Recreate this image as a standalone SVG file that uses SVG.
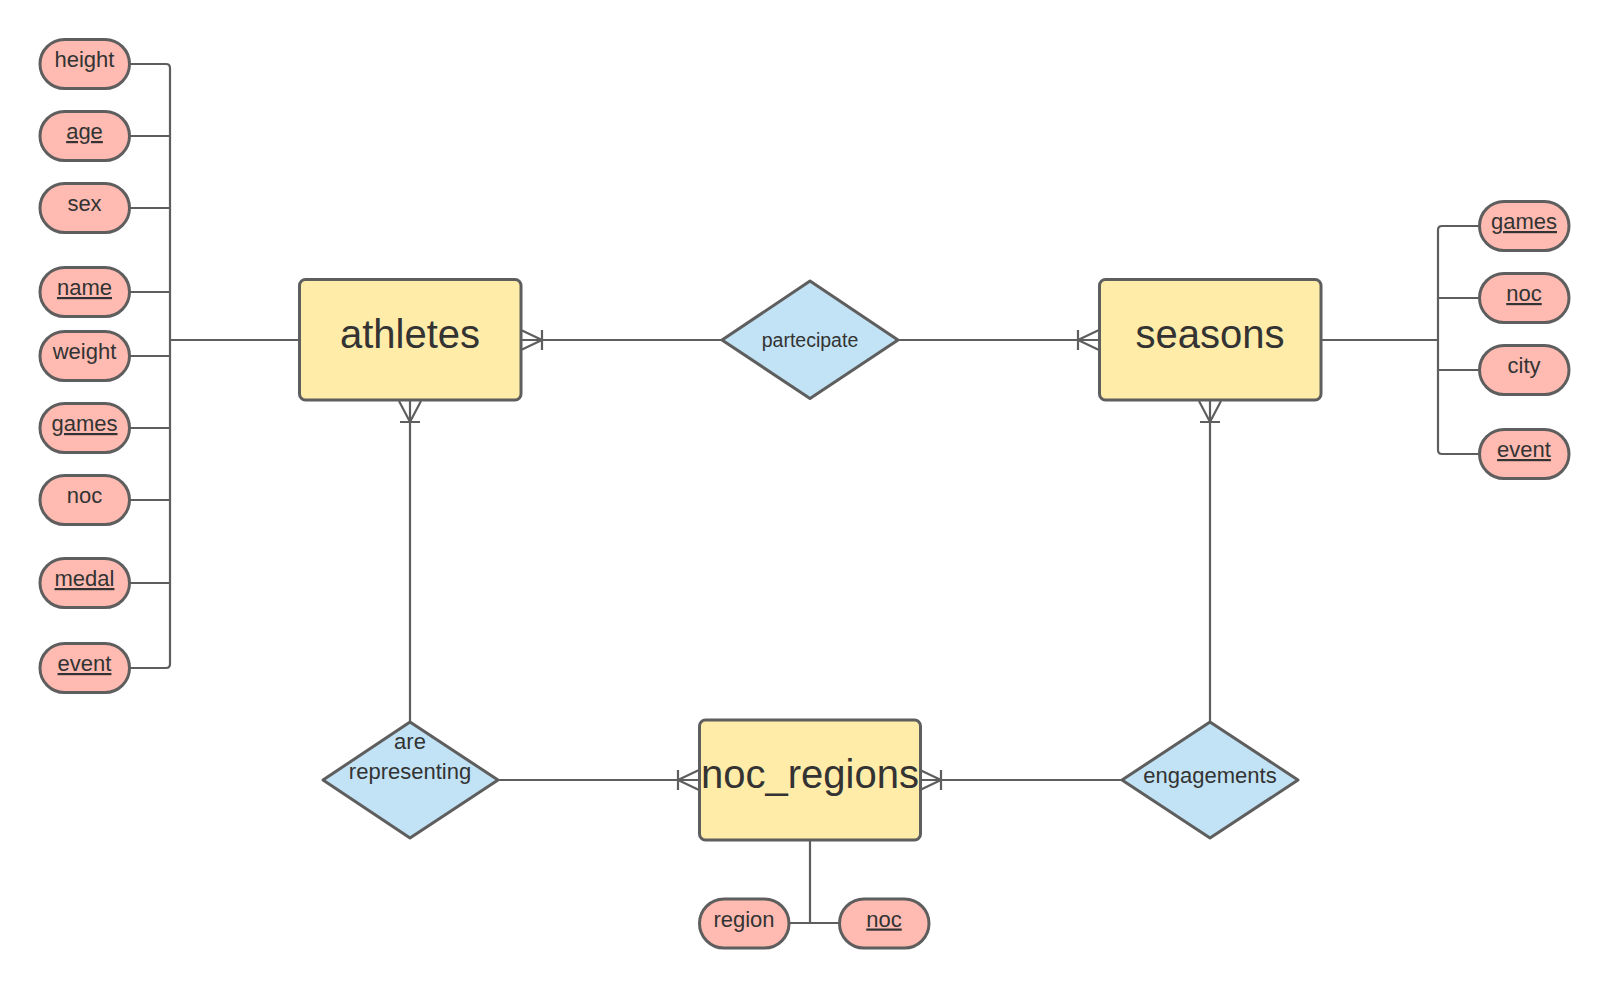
<svg xmlns="http://www.w3.org/2000/svg" width="1609" height="988" viewBox="0 0 1609 988">
<style>
.attr rect{fill:#ffbbb1;stroke:#5e5e5e;stroke-width:3}
.ent rect{fill:#ffeca9;stroke:#5e5e5e;stroke-width:3}
.rel polygon{fill:#c2e3f5;stroke:#5e5e5e;stroke-width:3;stroke-linejoin:round}
text{font-family:"Liberation Sans",Arial,sans-serif;fill:#333333;text-anchor:middle}
.at{font-size:22px}
.et{font-size:40px}
.rt{font-size:22px}
.u{text-decoration:underline}
#connectors path,#connectors line{fill:none;stroke:#5e5e5e;stroke-width:2.2}
</style>
<rect width="1609" height="988" fill="#ffffff"/>
<g id="connectors">
<path d="M129.5 64 H166 Q170 64 170 68 V664 Q170 668 166 668 H129.5"/>
<line x1="129.5" y1="136" x2="170" y2="136"/>
<line x1="129.5" y1="208" x2="170" y2="208"/>
<line x1="129.5" y1="292" x2="170" y2="292"/>
<line x1="129.5" y1="356" x2="170" y2="356"/>
<line x1="129.5" y1="428" x2="170" y2="428"/>
<line x1="129.5" y1="500" x2="170" y2="500"/>
<line x1="129.5" y1="583" x2="170" y2="583"/>
<line x1="170" y1="340" x2="299" y2="340"/>
<path d="M1479 226 H1442 Q1438 226 1438 230 V450 Q1438 454 1442 454 H1479"/>
<line x1="1438" y1="298" x2="1479" y2="298"/>
<line x1="1438" y1="370" x2="1479" y2="370"/>
<line x1="1321" y1="340" x2="1438" y2="340"/>
<line x1="521" y1="340" x2="722" y2="340"/>
<path d="M521 330 L542 340 L521 350 M542 330 V350"/>
<line x1="898" y1="340" x2="1099" y2="340"/>
<path d="M1099 330 L1078 340 L1099 350 M1078 330 V350"/>
<line x1="410" y1="400" x2="410" y2="722"/>
<path d="M399 401 L410 422 L421 401 M400 422 H420"/>
<line x1="1210" y1="400" x2="1210" y2="722"/>
<path d="M1199 401 L1210 422 L1221 401 M1200 422 H1220"/>
<line x1="498" y1="780" x2="699" y2="780"/>
<path d="M699 770 L678 780 L699 790 M678 770 V790"/>
<line x1="920" y1="780" x2="1122" y2="780"/>
<path d="M920 770 L941 780 L920 790 M941 770 V790"/>
<line x1="810" y1="840" x2="810" y2="923"/>
<line x1="789" y1="923" x2="839" y2="923"/>
</g>
<g id="attr-height" class="attr"><rect x="40" y="39.5" width="89.5" height="49" rx="24.5"/><text class="at" x="84.5" y="67">height</text></g>
<g id="attr-age" class="attr"><rect x="40" y="111.5" width="89.5" height="49" rx="24.5"/><text class="at u" x="84.5" y="139">age</text></g>
<g id="attr-sex" class="attr"><rect x="40" y="183.5" width="89.5" height="49" rx="24.5"/><text class="at" x="84.5" y="211">sex</text></g>
<g id="attr-name" class="attr"><rect x="40" y="267.5" width="89.5" height="49" rx="24.5"/><text class="at u" x="84.5" y="295">name</text></g>
<g id="attr-weight" class="attr"><rect x="40" y="331.5" width="89.5" height="49" rx="24.5"/><text class="at" x="84.5" y="359">weight</text></g>
<g id="attr-games" class="attr"><rect x="40" y="403.5" width="89.5" height="49" rx="24.5"/><text class="at u" x="84.5" y="431">games</text></g>
<g id="attr-noc" class="attr"><rect x="40" y="475.5" width="89.5" height="49" rx="24.5"/><text class="at" x="84.5" y="503">noc</text></g>
<g id="attr-medal" class="attr"><rect x="40" y="558.5" width="89.5" height="49" rx="24.5"/><text class="at u" x="84.5" y="586">medal</text></g>
<g id="attr-event" class="attr"><rect x="40" y="643.5" width="89.5" height="49" rx="24.5"/><text class="at u" x="84.5" y="671">event</text></g>
<g id="athletes" class="ent"><rect x="299.5" y="279.5" width="221.5" height="120.5" rx="6"/><text class="et" x="410" y="348">athletes</text></g>
<g id="seasons" class="ent"><rect x="1099.5" y="279.5" width="221.5" height="120.5" rx="6"/><text class="et" x="1210" y="348">seasons</text></g>
<g id="noc_regions" class="ent"><rect x="699.5" y="720" width="221" height="120" rx="6"/><text class="et" x="810" y="788">noc_regions</text></g>
<g id="partecipate" class="rel"><polygon points="810,281 898,340 810,398.5 722,340"/><text x="810" y="347" style="font-size:19.5px">partecipate</text></g>
<g id="are-representing" class="rel"><polygon points="410,722 498,780 410,838 323,780"/><text class="rt" x="410" y="749">are</text><text class="rt" x="410" y="778.5">representing</text></g>
<g id="engagements" class="rel"><polygon points="1210,722 1298,780 1210,838 1122,780"/><text class="rt" x="1210" y="783">engagements</text></g>
<g id="attr-s-games" class="attr"><rect x="1479.5" y="201.5" width="89.5" height="49" rx="24.5"/><text class="at u" x="1524" y="229">games</text></g>
<g id="attr-s-noc" class="attr"><rect x="1479.5" y="273.5" width="89.5" height="49" rx="24.5"/><text class="at u" x="1524" y="301">noc</text></g>
<g id="attr-s-city" class="attr"><rect x="1479.5" y="345.5" width="89.5" height="49" rx="24.5"/><text class="at" x="1524" y="373">city</text></g>
<g id="attr-s-event" class="attr"><rect x="1479.5" y="429.5" width="89.5" height="49" rx="24.5"/><text class="at u" x="1524" y="457">event</text></g>
<g id="attr-region" class="attr"><rect x="699.5" y="899" width="89.5" height="49" rx="24.5"/><text class="at" x="744" y="926.5">region</text></g>
<g id="attr-r-noc" class="attr"><rect x="839.5" y="899" width="89.5" height="49" rx="24.5"/><text class="at u" x="884" y="926.5">noc</text></g>
</svg>
